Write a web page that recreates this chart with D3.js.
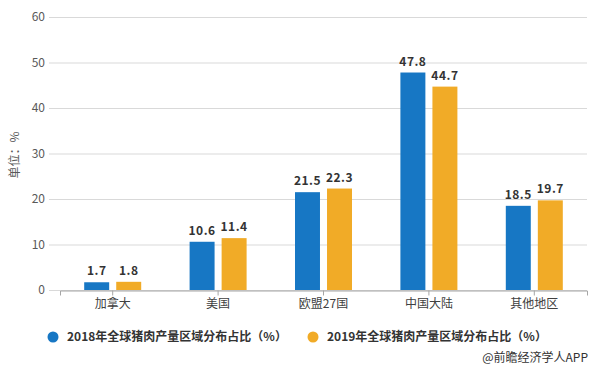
<!DOCTYPE html>
<html><head><meta charset="utf-8">
<script src="https://cdn.jsdelivr.net/npm/d3@7"></script>
<style>body{margin:0;background:#fff}svg{display:block}text{font-family:"Microsoft YaHei","Noto Sans CJK SC",sans-serif}</style>
</head><body><svg id="c" width="596" height="372"></svg>
<script>
const categories = ["加拿大","美国","欧盟27国","中国大陆","其他地区"];
const series2018 = [1.7,10.6,21.5,47.8,18.5];
const series2019 = [1.8,11.4,22.3,44.7,19.7];
const seriesNames = ["2018年全球猪肉产量区域分布占比（%）","2019年全球猪肉产量区域分布占比（%）"];
const yTicks = [0,10,20,30,40,50,60];
const colors = ["#1777c4","#f1ab27"];

const svg = d3.select("#c");
const x = d3.scaleBand().domain(categories).range([60,587]);
const y = d3.scaleLinear().domain([0,60]).range([290,17]);
const sub = d3.scaleBand().domain([0,1]).range([-28.5,28.5]).paddingInner(0.22);

// gridlines
svg.append("g").selectAll("line").data(yTicks).join("line")
  .attr("x1",49).attr("x2",587).attr("y1",d=>y(d)+0.5).attr("y2",d=>y(d)+0.5)
  .attr("stroke","#d9d9d9").attr("stroke-width",1);
svg.append("g").selectAll("text").data(yTicks).join("text")
  .attr("x",45).attr("y",d=>y(d)).attr("dy","0.35em").attr("text-anchor","end")
  .attr("font-size",12).attr("fill","#595959").text(d=>d);

// x axis
const xa = svg.append("g").attr("transform","translate(0,290.5)")
  .call(d3.axisBottom(x).tickSizeOuter(0).tickSize(5).tickPadding(4));
xa.select(".domain").attr("stroke","#a6a6a6");
xa.selectAll(".tick line").attr("stroke","#a6a6a6");
xa.selectAll(".tick text").attr("font-size",12).attr("fill","#404040")
  .style("font-family",'"Microsoft YaHei","Noto Sans CJK SC",sans-serif');

// y title
svg.append("text").attr("transform","translate(19,155) rotate(-90)")
  .attr("text-anchor","middle").attr("font-size",12).attr("fill","#595959").text("单位：%");

const data = [series2018, series2019];
data.forEach((vals,si)=>{
  const g = svg.append("g");
  g.selectAll("rect").data(categories).join("rect")
    .attr("x",(c)=>x(c)+x.bandwidth()/2+sub(si))
    .attr("width",sub.bandwidth())
    .attr("y",(c,i)=>y(vals[i]))
    .attr("height",(c,i)=>y(0)-y(vals[i]))
    .attr("fill",colors[si]);
  g.selectAll("text").data(categories).join("text")
    .attr("x",(c)=>x(c)+x.bandwidth()/2+sub(si)+sub.bandwidth()/2)
    .attr("y",(c,i)=>y(vals[i])-7)
    .attr("text-anchor","middle").attr("font-size",12).attr("font-weight","bold")
    .attr("fill","#333").attr("letter-spacing","0.5px").text((c,i)=>vals[i]);
});

// legend
const lx = [53,313];
seriesNames.forEach((n,i)=>{
  svg.append("circle").attr("cx",lx[i]).attr("cy",337).attr("r",5.5).attr("fill",colors[i]);
  svg.append("text").attr("x",lx[i]+14).attr("y",337).attr("dy","0.35em")
    .attr("font-size",12).attr("font-weight","bold").attr("fill","#333").text(n);
});
svg.append("text").attr("x",588).attr("y",358).attr("dy","0.35em").attr("text-anchor","end")
  .attr("font-size",12).attr("fill","#333").text("@前瞻经济学人APP");
</script></body></html>
